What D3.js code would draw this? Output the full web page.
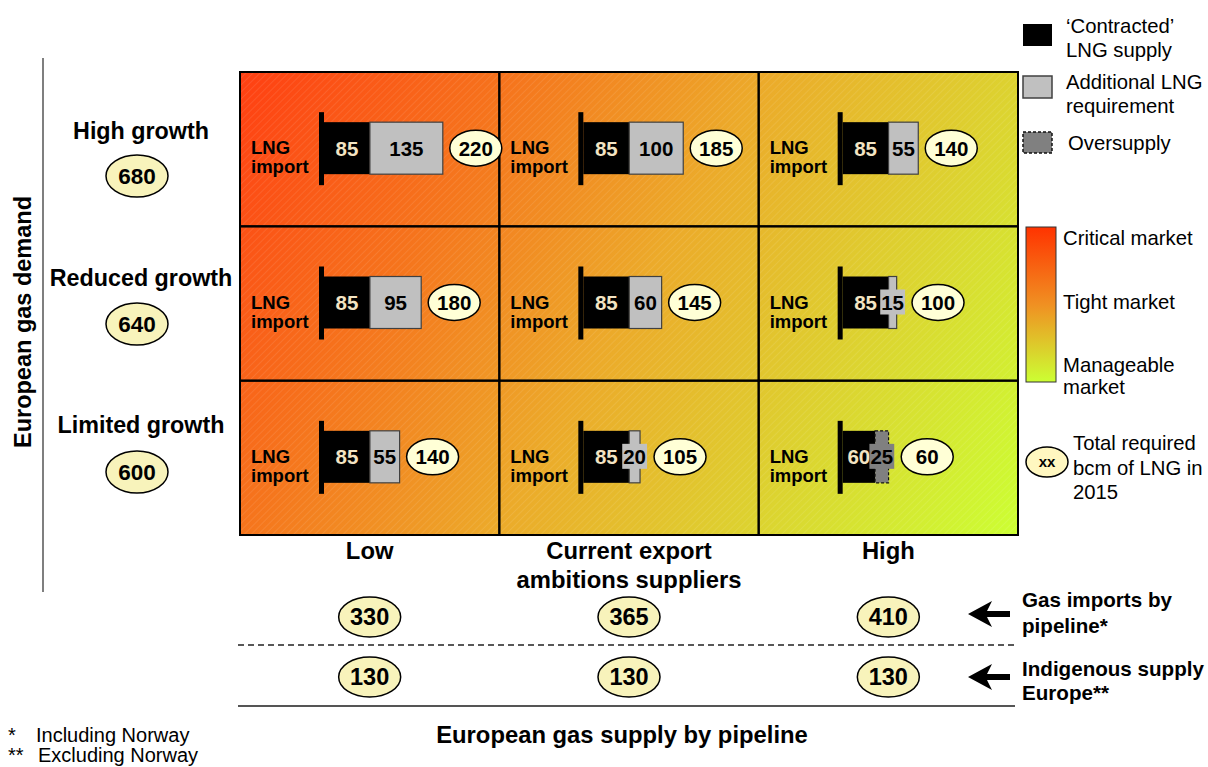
<!DOCTYPE html>
<html>
<head>
<meta charset="utf-8">
<script src="https://cdn.jsdelivr.net/npm/d3@7"></script>
<style>
  body { margin: 0; background: #fff; }
  svg { display: block; font-family: "Liberation Sans", Arial, Helvetica, sans-serif; }
</style>
</head>
<body>
<svg id="chart" width="1208" height="767"></svg>
<script>
// Scenario labels and values (bcm)
const demandScenarios = ["High growth", "Reduced growth", "Limited growth"];
const demandTotals = [680, 640, 600];
const supplyScenarios = [["Low"], ["Current export", "ambitions suppliers"], ["High"]];
const pipelineImports = [330, 365, 410];
const indigenousSupply = [130, 130, 130];
// rows = demand scenario, columns = pipeline supply scenario
const contractedLNG = [[85, 85, 85], [85, 85, 85], [85, 85, 60]];
const additionalLNG = [[135, 100, 55], [95, 60, 15], [55, 20, 0]];
const oversupplyLNG = [[0, 0, 0], [0, 0, 0], [0, 0, 25]];
const totalLNG = [[220, 185, 140], [180, 145, 100], [140, 105, 60]];

const svg = d3.select("#chart");
const defs = svg.append("defs");

// Grid geometry
const gx0 = 240, gx1 = 1018, gy0 = 72, gy1 = 535;
const col = d3.scaleBand().domain(d3.range(3)).range([gx0, gx1]);
const row = d3.scaleBand().domain(d3.range(3)).range([gy0, gy1]);
const bcm = d3.scaleLinear().domain([0, 100]).range([0, 54]);
const headLabelY = d3.scalePoint().domain(d3.range(3)).range([139, 433]);
const headEllY = d3.scalePoint().domain(d3.range(3)).range([176, 472]);

// Market tension gradient
const grad = defs.append("linearGradient").attr("id", "market")
  .attr("gradientUnits", "userSpaceOnUse")
  .attr("x1", gx0).attr("y1", gy0).attr("x2", gx1).attr("y2", gy1);
grad.append("stop").attr("offset", 0).attr("stop-color", "#ff3f12");
grad.append("stop").attr("offset", 0.25).attr("stop-color", "#f6721c");
grad.append("stop").attr("offset", 0.5).attr("stop-color", "#ecaa2a");
grad.append("stop").attr("offset", 0.75).attr("stop-color", "#dcd430");
grad.append("stop").attr("offset", 1).attr("stop-color", "#ccff33");

const lgrad = defs.append("linearGradient").attr("id", "marketLegend")
  .attr("x1", 0).attr("y1", 0).attr("x2", 0).attr("y2", 1);
lgrad.append("stop").attr("offset", 0).attr("stop-color", "#ff3300");
lgrad.append("stop").attr("offset", 0.5).attr("stop-color", "#f09022");
lgrad.append("stop").attr("offset", 1).attr("stop-color", "#ccff33");

// Fine diagonal hatching over the grid
const hatch = defs.append("pattern").attr("id", "hatch")
  .attr("patternUnits", "userSpaceOnUse").attr("width", 5).attr("height", 5)
  .attr("patternTransform", "rotate(45)");
hatch.append("line").attr("x1", 0).attr("y1", 0).attr("x2", 0).attr("y2", 5)
  .attr("stroke", "#fff").attr("stroke-width", 1).attr("stroke-opacity", 0.18);

svg.append("rect").attr("x", gx0).attr("y", gy0).attr("width", gx1 - gx0).attr("height", gy1 - gy0)
  .attr("fill", "url(#market)");
svg.append("rect").attr("x", gx0).attr("y", gy0).attr("width", gx1 - gx0).attr("height", gy1 - gy0)
  .attr("fill", "url(#hatch)");

// Cell borders
const cells = [];
for (let r = 0; r < 3; r++) for (let c = 0; c < 3; c++) cells.push({ r, c });
svg.append("g").selectAll("rect").data(cells).join("rect")
  .attr("x", d => col(d.c)).attr("y", d => row(d.r))
  .attr("width", col.bandwidth()).attr("height", row.bandwidth())
  .attr("fill", "none").attr("stroke", "#000").attr("stroke-width", 2);

// Ellipse with number helper
function bubble(g, cx, cy, rx, ry, txt, size, fill) {
  g.append("ellipse").attr("cx", cx).attr("cy", cy).attr("rx", rx).attr("ry", ry)
    .attr("fill", fill).attr("stroke", "#000").attr("stroke-width", 1.5);
  g.append("text").attr("x", cx).attr("y", cy).attr("dy", "0.36em")
    .attr("text-anchor", "middle").attr("font-weight", "bold").attr("font-size", size)
    .attr("fill", "#000").text(txt);
}

// LNG bars inside each cell
const barLayer = svg.append("g");
cells.forEach(({ r, c }) => {
  const g = barLayer.append("g");
  const left = col(c);
  const cy = row(r) + row.bandwidth() / 2 - 1;
  const x0 = left + 84;

  g.append("text").attr("x", left + 11).attr("y", cy + 6)
    .attr("font-weight", "bold").attr("font-size", 18.5).text("LNG");
  g.append("text").attr("x", left + 11).attr("y", cy + 25)
    .attr("font-weight", "bold").attr("font-size", 18.5).text("import");

  const con = contractedLNG[r][c], add = additionalLNG[r][c], over = oversupplyLNG[r][c];
  const segs = [
    { v: con, start: 0, fill: "#000", stroke: "none", dash: null, txt: "#f3e4c3" },
  ];
  if (over > 0) segs.push({ v: over, start: con, fill: "#808080", stroke: "#111", dash: "3,2", txt: "#000" });
  if (add > 0) segs.push({ v: add, start: con, fill: "#c0c0c0", stroke: "#404040", dash: null, txt: "#000" });

  segs.forEach(s => {
    g.append("rect").attr("x", x0 + bcm(s.start)).attr("y", cy - 26)
      .attr("width", bcm(s.v)).attr("height", 52)
      .attr("fill", s.fill).attr("stroke", s.stroke).attr("stroke-width", 1.2)
      .attr("stroke-dasharray", s.dash);
  });
  // start marker
  g.append("rect").attr("x", x0 - 5).attr("y", cy - 36).attr("width", 5).attr("height", 73).attr("fill", "#000");

  let labelEnd = x0 + bcm(con + add);
  segs.forEach(s => {
    const mx = x0 + bcm(s.start + s.v / 2);
    const t = g.append("text").attr("x", mx).attr("y", cy).attr("dy", "0.36em")
      .attr("text-anchor", "middle").attr("font-weight", "bold").attr("font-size", 20.5)
      .attr("fill", s.txt).text(s.v);
    const tw = t.node().getComputedTextLength();
    if (bcm(s.v) < tw + 6) {
      g.insert("rect", () => t.node()).attr("x", mx - tw / 2 - 1).attr("y", cy - 13)
        .attr("width", tw + 2).attr("height", 25).attr("fill", s.fill);
      labelEnd = Math.max(labelEnd, mx + tw / 2 + 1);
    }
  });
  const barEnd = x0 + bcm(con + add + over);
  const ex = Math.max(barEnd, labelEnd) + 33;
  bubble(g, ex, cy, 26, 18, totalLNG[r][c], 20.5, "#ffffd6");
});

// Demand scenario headers
const rowHead = svg.append("g");
demandScenarios.forEach((name, i) => {
  rowHead.append("text").attr("x", 141).attr("y", headLabelY(i))
    .attr("text-anchor", "middle").attr("font-weight", "bold").attr("font-size", 23.3).text(name);
  bubble(rowHead, 137, headEllY(i), 31, 21, demandTotals[i], 22.5, "#f8f3bb");
});

// Vertical axis title and rule
svg.append("line").attr("x1", 43).attr("x2", 43).attr("y1", 58).attr("y2", 592)
  .attr("stroke", "#555").attr("stroke-width", 1.5);
svg.append("text").attr("transform", "translate(31,322) rotate(-90)")
  .attr("text-anchor", "middle").attr("font-weight", "bold").attr("font-size", 23.5)
  .text("European gas demand");

// Supply scenario headers
const colHead = svg.append("g");
supplyScenarios.forEach((lines, i) => {
  const cx = col(i) + col.bandwidth() / 2;
  lines.forEach((ln, j) => {
    colHead.append("text").attr("x", cx).attr("y", 559 + j * 29)
      .attr("text-anchor", "middle").attr("font-weight", "bold").attr("font-size", 23.8).text(ln);
  });
  bubble(colHead, cx, 617, 31, 20, pipelineImports[i], 23.5, "#f8f3bb");
  bubble(colHead, cx, 677, 31, 20, indigenousSupply[i], 23.5, "#f8f3bb");
});

// Separators under the supply rows
svg.append("line").attr("x1", 238).attr("x2", 1015).attr("y1", 645).attr("y2", 645)
  .attr("stroke", "#222").attr("stroke-width", 1.3).attr("stroke-dasharray", "6,4");
svg.append("line").attr("x1", 238).attr("x2", 1015).attr("y1", 706).attr("y2", 706)
  .attr("stroke", "#555").attr("stroke-width", 2);

svg.append("text").attr("x", 622).attr("y", 743).attr("text-anchor", "middle")
  .attr("font-weight", "bold").attr("font-size", 23.8).text("European gas supply by pipeline");

// Arrows pointing to supply rows
function arrow(y) {
  svg.append("path")
    .attr("d", `M968,${y} L992,${y - 13} L987,${y - 3} L1010,${y - 3} L1010,${y + 3} L987,${y + 3} L992,${y + 13} Z`)
    .attr("fill", "#000");
}
arrow(614);
arrow(677);
const sideLabels = [[["Gas imports by", 607], ["pipeline*", 633]], [["Indigenous supply", 676], ["Europe**", 700]]];
sideLabels.forEach(lines => lines.forEach(([t, y]) => {
  svg.append("text").attr("x", 1022).attr("y", y).attr("font-weight", "bold").attr("font-size", 20.6).text(t);
}));

// Footnotes
svg.append("text").attr("x", 8).attr("y", 742).attr("font-size", 20).text("*");
svg.append("text").attr("x", 36).attr("y", 742).attr("font-size", 20).text("Including Norway");
svg.append("text").attr("x", 8).attr("y", 762).attr("font-size", 20).text("**");
svg.append("text").attr("x", 38).attr("y", 762).attr("font-size", 20).text("Excluding Norway");

// Legend
const leg = svg.append("g").attr("font-size", 20.3);
leg.append("rect").attr("x", 1023).attr("y", 24).attr("width", 29).attr("height", 22).attr("fill", "#000");
leg.append("text").attr("x", 1066).attr("y", 33).text("\u2018Contracted\u2019");
leg.append("text").attr("x", 1066).attr("y", 57).text("LNG supply");
leg.append("rect").attr("x", 1023).attr("y", 76).attr("width", 29).attr("height", 22)
  .attr("fill", "#c0c0c0").attr("stroke", "#404040").attr("stroke-width", 1.5);
leg.append("text").attr("x", 1066).attr("y", 89).text("Additional LNG");
leg.append("text").attr("x", 1066).attr("y", 113).text("requirement");
leg.append("rect").attr("x", 1023).attr("y", 132).attr("width", 29).attr("height", 21)
  .attr("fill", "#808080").attr("stroke", "#111").attr("stroke-width", 1.5).attr("stroke-dasharray", "3,2");
leg.append("text").attr("x", 1068).attr("y", 150).text("Oversupply");

leg.append("rect").attr("x", 1026).attr("y", 227).attr("width", 30).attr("height", 155)
  .attr("fill", "url(#marketLegend)").attr("stroke", "#333").attr("stroke-width", 1);
leg.append("text").attr("x", 1063).attr("y", 245).text("Critical market");
leg.append("text").attr("x", 1063).attr("y", 309).text("Tight market");
leg.append("text").attr("x", 1063).attr("y", 372).text("Manageable");
leg.append("text").attr("x", 1063).attr("y", 394).text("market");

leg.append("ellipse").attr("cx", 1047).attr("cy", 462).attr("rx", 21).attr("ry", 15)
  .attr("fill", "#fff7c0").attr("stroke", "#000").attr("stroke-width", 1.5);
leg.append("text").attr("x", 1047).attr("y", 462).attr("dy", "0.36em").attr("text-anchor", "middle")
  .attr("font-weight", "bold").attr("font-size", 15).text("xx");
leg.append("text").attr("x", 1073).attr("y", 450).text("Total required");
leg.append("text").attr("x", 1073).attr("y", 475).text("bcm of LNG in");
leg.append("text").attr("x", 1073).attr("y", 499).text("2015");
</script>
</body>
</html>
